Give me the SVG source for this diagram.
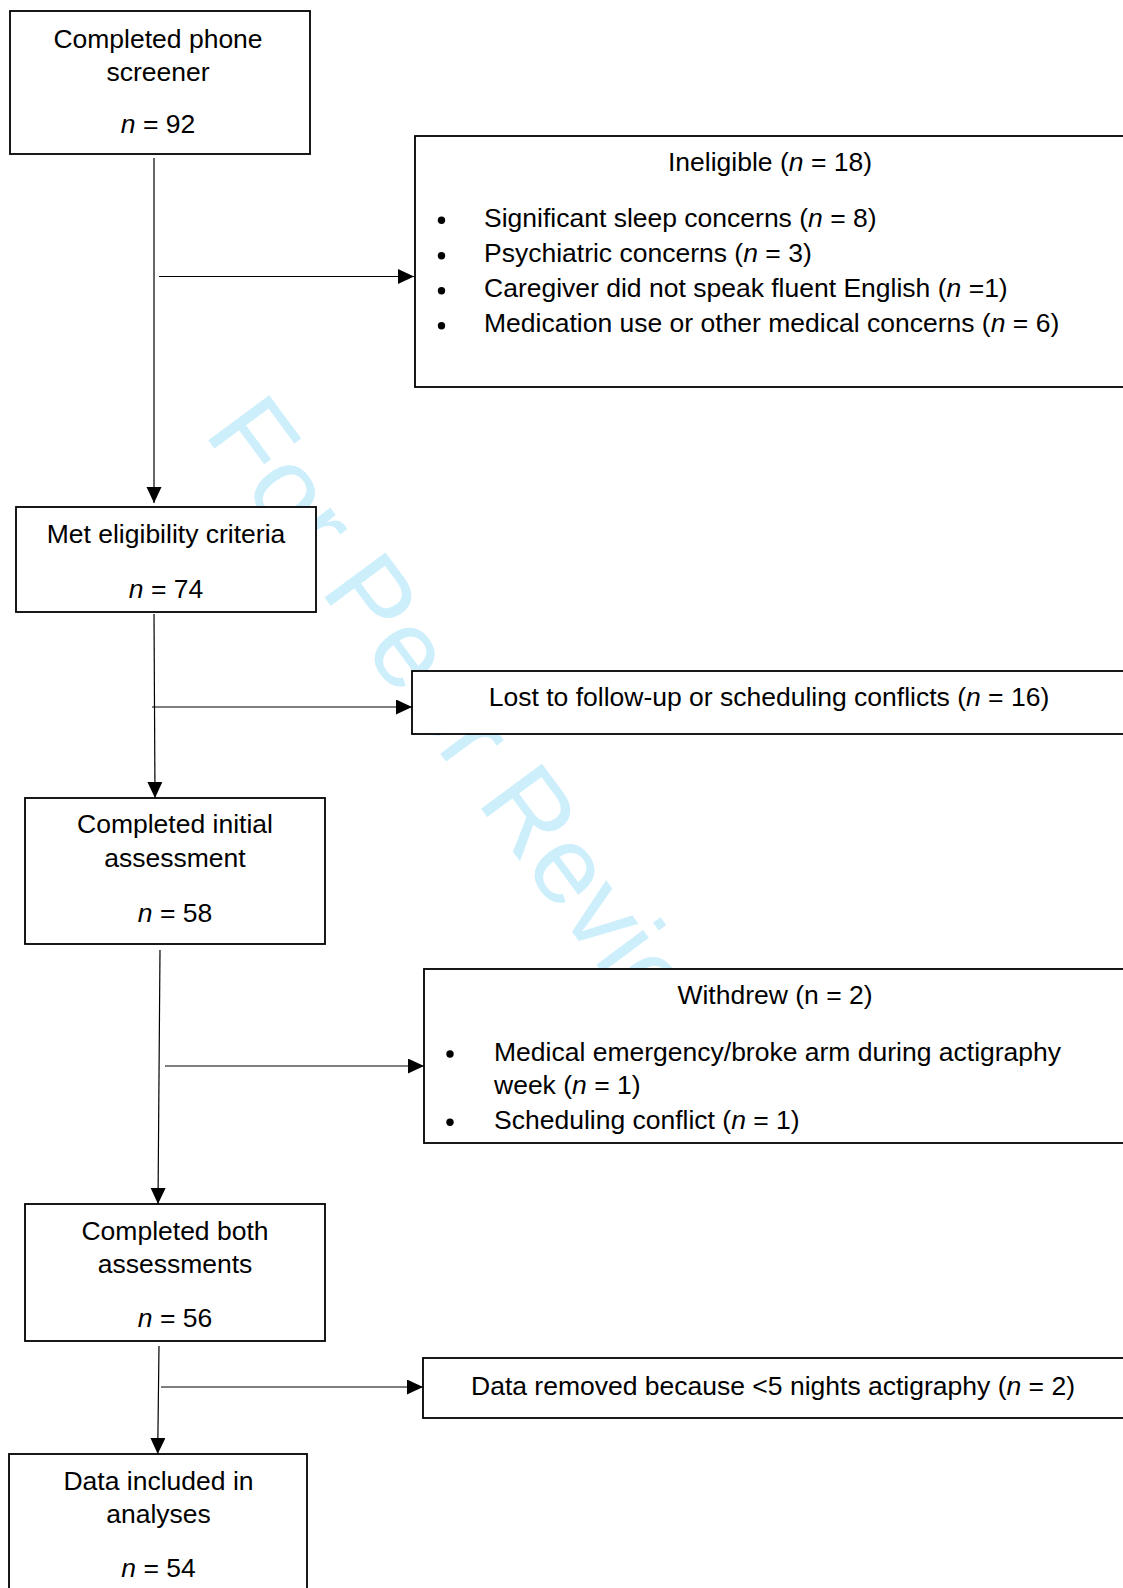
<svg xmlns="http://www.w3.org/2000/svg" width="1123" height="1588" viewBox="0 0 1123 1588">
<style>
.box{fill:#fff;stroke:#000;stroke-width:1.8}
.t{font-family:"Liberation Sans",Arial,sans-serif;font-size:26.5px;fill:#000}
.c{text-anchor:middle}
.i{font-style:italic}
.con{stroke:#000;stroke-width:1.2;fill:none;marker-end:url(#ah)}
.wm{font-family:"Liberation Sans",Arial,sans-serif;font-size:110px;fill:#CDEFFC}
</style>
<defs>
<marker id="ah" markerUnits="userSpaceOnUse" markerWidth="16" markerHeight="16" refX="16" refY="7.5" orient="auto">
<path d="M0,0 L16,7.5 L0,15 z" fill="#000"/>
</marker>
</defs>
<rect width="1123" height="1588" fill="#fff"/>
<text class="wm" x="203" y="433" transform="rotate(53.5 203 433)">For Peer Review</text>
<g id="connectors">
<line class="con" x1="154" y1="158" x2="154" y2="503"/>
<line class="con" x1="159" y1="276.5" x2="414" y2="276.5"/>
<line class="con" x1="154" y1="614" x2="155" y2="798"/>
<line class="con" x1="152" y1="707" x2="412" y2="707"/>
<line class="con" x1="160" y1="950" x2="158" y2="1204"/>
<line class="con" x1="165" y1="1066" x2="424" y2="1066"/>
<line class="con" x1="159" y1="1346" x2="157.7" y2="1454"/>
<line class="con" x1="161" y1="1387" x2="423" y2="1387"/>
</g>
<g id="phone">
<rect class="box" x="10" y="11" width="300" height="143"/>
<text class="t c" x="158" y="48">Completed phone</text>
<text class="t c" x="158" y="81">screener</text>
<text class="t c" x="158" y="133"><tspan class="i">n</tspan> = 92</text>
</g>
<g id="ineligible">
<rect class="box" x="415" y="136" width="720" height="251"/>
<text class="t c" x="770" y="171">Ineligible (<tspan class="i">n</tspan> = 18)</text>
<circle cx="441.5" cy="220.3" r="3.7"/>
<circle cx="441.5" cy="255.7" r="3.7"/>
<circle cx="441.5" cy="290.7" r="3.7"/>
<circle cx="441.5" cy="325.7" r="3.7"/>
<text class="t" x="484" y="227">Significant sleep concerns (<tspan class="i">n</tspan> = 8)</text>
<text class="t" x="484" y="262">Psychiatric concerns (<tspan class="i">n</tspan> = 3)</text>
<text class="t" x="484" y="297">Caregiver did not speak fluent English (<tspan class="i">n</tspan> =1)</text>
<text class="t" x="484" y="332">Medication use or other medical concerns (<tspan class="i">n</tspan> = 6)</text>
</g>
<g id="eligible">
<rect class="box" x="16" y="507" width="300" height="105"/>
<text class="t c" x="166" y="543">Met eligibility criteria</text>
<text class="t c" x="166" y="598"><tspan class="i">n</tspan> = 74</text>
</g>
<g id="lost">
<rect class="box" x="412" y="671" width="720" height="63"/>
<text class="t c" x="769" y="706">Lost to follow-up or scheduling conflicts (<tspan class="i">n</tspan> = 16)</text>
</g>
<g id="initial">
<rect class="box" x="25" y="798" width="300" height="146"/>
<text class="t c" x="175" y="833">Completed initial</text>
<text class="t c" x="175" y="867">assessment</text>
<text class="t c" x="175" y="922"><tspan class="i">n</tspan> = 58</text>
</g>
<g id="withdrew">
<rect class="box" x="424" y="969" width="710" height="174"/>
<text class="t c" x="775" y="1004">Withdrew (n = 2)</text>
<circle cx="450" cy="1054" r="3.7"/>
<circle cx="450" cy="1122.3" r="3.7"/>
<text class="t" x="494" y="1061">Medical emergency/broke arm during actigraphy</text>
<text class="t" x="494" y="1094">week (<tspan class="i">n</tspan> = 1)</text>
<text class="t" x="494" y="1129">Scheduling conflict (<tspan class="i">n</tspan> = 1)</text>
</g>
<g id="both">
<rect class="box" x="25" y="1204" width="300" height="137"/>
<text class="t c" x="175" y="1240">Completed both</text>
<text class="t c" x="175" y="1273">assessments</text>
<text class="t c" x="175" y="1327"><tspan class="i">n</tspan> = 56</text>
</g>
<g id="removed">
<rect class="box" x="423" y="1358" width="710" height="60"/>
<text class="t c" x="773" y="1395">Data removed because &lt;5 nights actigraphy (<tspan class="i">n</tspan> = 2)</text>
</g>
<g id="included">
<rect class="box" x="9" y="1454" width="298" height="150"/>
<text class="t c" x="158.5" y="1490">Data included in</text>
<text class="t c" x="158.5" y="1523">analyses</text>
<text class="t c" x="158.5" y="1577"><tspan class="i">n</tspan> = 54</text>
</g>
</svg>
